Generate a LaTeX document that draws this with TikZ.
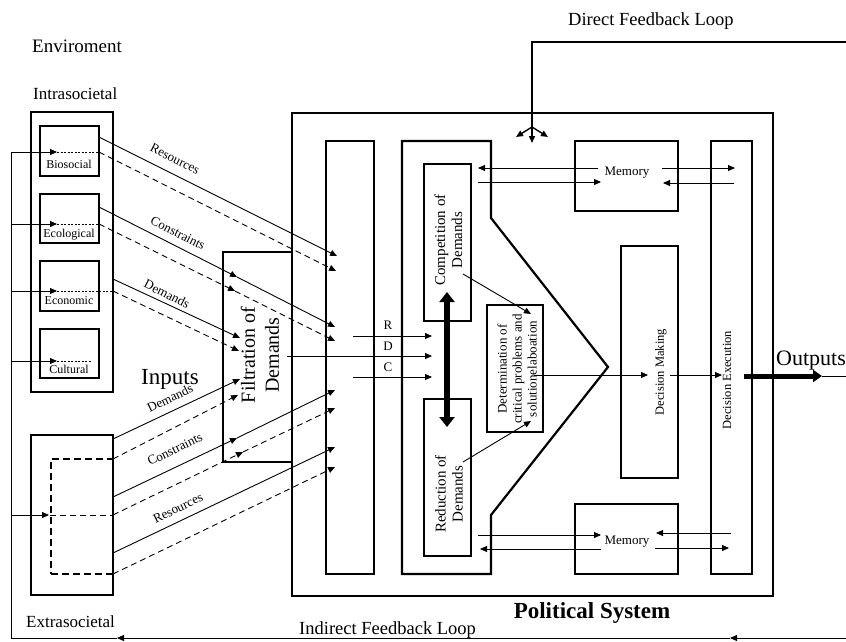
\documentclass[tikz,border=0pt]{standalone}
\usepackage{fontspec}
\setmainfont{Liberation Serif}
\usetikzlibrary{positioning,calc,arrows.meta}
\newcommand{\fsz}[2]{\fontsize{#1}{#2}\selectfont}
\tikzset{
	box/.style={draw, line width=2.2pt, inner sep=0pt},
	thinline/.style={line width=0.9pt},
	arr/.style={thinline, -{Triangle[length=7pt,width=6pt]}},
	darr/.style={arr, dash pattern=on 6pt off 4pt},
	dashline/.style={thinline, dash pattern=on 6pt off 4pt},
	dotline/.style={line width=0.7pt, dash pattern=on 2pt off 1.5pt},
	bigarr/.style={line width=5pt, -{Triangle[length=9pt,width=12pt]}},
	lbl/.style={font=\fsz{13}{15}, inner sep=0pt},
	boxlbl/.style={font=\fsz{12}{14}, inner sep=0pt, anchor=base},
	vert/.style={rotate=90, align=center, inner sep=0pt},
	title/.style={inner sep=0pt, anchor=base west}
}

\begin{document}
\begin{tikzpicture}[x=1pt, y=-1pt]
	\useasboundingbox (0,0) rectangle (846,641);

	\node[title, font=\fsz{19}{22}] (env) at (32,52) {Enviroment};
	\node[title, font=\fsz{17}{20}] (intratxt) at (33,99) {Intrasocietal};
	\node[title, font=\fsz{17}{20}] (extratxt) at (26,627) {Extrasocietal};
	\node[title, font=\fsz{18.5}{20}] (dfbtxt) at (568,25) {Direct Feedback Loop};
	\node[title, font=\fsz{18.5}{20}] (ifbtxt) at (299,634) {Indirect Feedback Loop};
	\node[inner sep=0pt, anchor=base, font=\fsz{23}{26}\bfseries] (poltxt) at (592,618) {Political System};
	\node[title, font=\fsz{23}{26}] (inputs) at (141,384) {Inputs};
	\node[title, font=\fsz{22}{26}] (outputs) at (776,365) {Outputs};

	% environment boxes
	\node[box, minimum width=82pt, minimum height=280pt] (intra) at (72,252) {};
	\node[box, minimum width=59pt, minimum height=50pt] (bio) at (69.5,151) {};
	\node[box, minimum width=59pt, minimum height=49pt] (eco) at (69.5,218.5) {};
	\node[box, minimum width=59pt, minimum height=50pt] (econ) at (69.5,286) {};
	\node[box, minimum width=59pt, minimum height=49pt] (cult) at (69.5,353.5) {};
	\node[boxlbl] (biotxt) at (69,168) {Biosocial};
	\node[boxlbl] (ecotxt) at (69,237) {Ecological};
	\node[boxlbl] (econtxt) at (69,304) {Economic};
	\node[boxlbl] (culttxt) at (69,373) {Cultural};
	\node[box, minimum width=82pt, minimum height=160pt] (extra) at (72,515) {};
	\node[box, dash pattern=on 7pt off 4pt, minimum width=62pt, minimum height=115pt] (extrain) at (82,516.5) {};

	% political system
	\node[box, minimum width=69pt, minimum height=210pt] (filt) at (257.5,357) {};
	\node[box, minimum width=481pt, minimum height=483pt] (pol) at (532.5,354.5) {};
	\node[box, minimum width=48pt, minimum height=433pt] (col) at (350,357.5) {};
	\draw[line width=2.2pt, line join=miter] (402,141) -- (491,141) -- (491,218) -- (608,367)
		-- (491,515) -- (491,574) -- (402,574) -- cycle;
	\node[box, minimum width=47pt, minimum height=157pt] (comp) at (447.5,242.5) {};
	\node[box, minimum width=47pt, minimum height=157pt] (red) at (447.5,477.5) {};
	\node[box, minimum width=56pt, minimum height=127pt] (det) at (515,368.5) {};
	\node[box, minimum width=103pt, minimum height=70pt] (memtop) at (626.5,176) {};
	\node[box, minimum width=103pt, minimum height=70pt] (membot) at (626.5,539) {};
	\node[box, minimum width=57pt, minimum height=232pt] (dm) at (649.5,362) {};
	\node[box, minimum width=41pt, minimum height=433pt] (de) at (731.5,357.5) {};

	\node[vert, font=\fsz{20}{24}] (filttxt) at (260,355) {Filtration of\\Demands};
	\node[vert, font=\fsz{15}{17}] (comptxt) at (448.5,240) {Competition of\\Demands};
	\node[vert, font=\fsz{15}{17}] (redtxt) at (449,494) {Reduction of\\Demands};
	\node[vert, font=\fsz{13}{15}] (dettxt) at (517,369) {Determination of\\critical problems and\\solutionelaboation};
	\node[vert, font=\fsz{12.5}{14}] (dmtxt) at (661,372) {Decision Making};
	\node[vert, font=\fsz{12.5}{14}] (detxt) at (727,380) {Decision Execution};
	\node[lbl] (memtoptxt) at (627,173) {Memory};
	\node[lbl] (membottxt) at (627,542) {Memory};

	% indirect feedback loop
	\coordinate (fbin) at (846,638);
	\coordinate (fbmidR) at (730,638);
	\coordinate (fbmidL) at (117,638);
	\coordinate (fbcorner) at (11,638);
	\coordinate (fbtop) at (11,152);
	\draw[arr] (fbin) -- (fbmidR);
	\draw[arr] (fbmidR) -- (fbmidL);
	\draw[thinline] (fbmidL) -- (fbcorner) -- (fbtop);

	\coordinate (bioin) at (57,152);
	\coordinate (ecoin) at (57,224);
	\coordinate (econin) at (57,291);
	\coordinate (cultin) at (57,361);
	\coordinate (extrain0) at (49,515);
	\draw[arr] (bioin -| fbtop) -- (bioin);
	\draw[arr] (ecoin -| fbtop) -- (ecoin);
	\draw[arr] (econin -| fbtop) -- (econin);
	\draw[arr] (cultin -| fbtop) -- (cultin);
	\draw[arr] (extrain0 -| fbtop) -- (extrain0);
	\draw[dotline] (bioin) -- (bioin -| bio.east);
	\draw[dotline] (ecoin) -- (ecoin -| eco.east);
	\draw[dotline] (econin) -- (econin -| intra.east);
	\draw[dotline] (cultin) -- (92,361);
	\draw[dashline] (extrain0 -| extrain.west) -- (extrain0 -| extra.east);

	% intrasocietal inputs
	\coordinate (bioS) at (99,137);
	\coordinate (bioD) at (99,152);
	\coordinate (resS) at (337,256);
	\coordinate (resD) at (336,271);
	\coordinate (ecoS) at (99,207);
	\coordinate (ecoD) at (99,224);
	\coordinate (conSm) at (237,277);
	\coordinate (conDm) at (235,291);
	\coordinate (conS) at (335,327);
	\coordinate (conD) at (335,341);
	\coordinate (econS) at (113,279);
	\coordinate (econD) at (113,291);
	\coordinate (demS) at (240,338);
	\coordinate (demD) at (239,351);
	\draw[arr ] (bioS) -- (resS);
	\draw[darr] (bioD) -- (resD);
	\draw[arr ] (ecoS) -- (conSm);
	\draw[arr ] (conSm) -- (conS);
	\draw[darr] (ecoD) -- (conDm);
	\draw[darr] (conDm) -- (conD);
	\draw[arr ] (econS) -- (demS);
	\draw[darr] (econD) -- (demD);
	\node[lbl, rotate=-27] (restxt) at (175,159) {Resources};
	\node[lbl, rotate=-27] (contxt) at (178,233) {Constraints};
	\node[lbl, rotate=-27] (demtxt) at (167,294) {Demands};

	% extrasocietal inputs
	\coordinate (xdemS0) at (113,439);
	\coordinate (xdemD0) at (113,459);
	\coordinate (xconS0) at (113,497);
	\coordinate (xconD0) at (113,515);
	\coordinate (xresS0) at (113,553);
	\coordinate (xresD0) at (113,574);
	\coordinate (xdemS) at (240,379);
	\coordinate (xdemD) at (238,395);
	\coordinate (xconSm) at (237,438);
	\coordinate (xconDm) at (243,452);
	\coordinate (xconS) at (335,390);
	\coordinate (xconD) at (335,408);
	\coordinate (xresS) at (335,447);
	\coordinate (xresD) at (335,467);
	\draw[arr ] (xdemS0) -- (xdemS);
	\draw[darr] (xdemD0) -- (xdemD);
	\draw[arr ] (xconS0) -- (xconSm);
	\draw[arr ] (xconSm) -- (xconS);
	\draw[darr] (xconD0) -- (xconDm);
	\draw[darr] (xconDm) -- (xconD);
	\draw[arr ] (xresS0) -- (xresS);
	\draw[darr] (xresD0) -- (xresD);
	\node[lbl, rotate=26] (xdemtxt) at (170,398) {Demands};
	\node[lbl, rotate=26] (xcontxt) at (175,449) {Constraints};
	\node[lbl, rotate=26] (xrestxt) at (178,508) {Resources};

	% R, D, C
	\coordinate (rS) at (353,336);
	\coordinate (dS) at (287,356);
	\coordinate (cS) at (353,377);
	\coordinate (rE) at (432,336);
	\coordinate (dE) at (432,356);
	\coordinate (cE) at (432,377);
	\draw[arr] (rS) -- (rE);
	\draw[arr] (dS) -- (dE);
	\draw[arr] (cS) -- (cE);
	\node[lbl] (rtxt) at (388,325) {R};
	\node[lbl] (dtxt) at (388,346) {D};
	\node[lbl] (ctxt) at (388,367) {C};

	% processing
	\coordinate (cpTop) at (447,292);
	\coordinate (cpBot) at (447,427);
	\draw[line width=6pt, {Triangle[length=10pt,width=15pt]}-{Triangle[length=10pt,width=15pt]}] (cpTop) -- (cpBot);
	\coordinate (compout) at (463,274);
	\coordinate (redout) at (463,462);
	\coordinate (detinT) at (531,314);
	\coordinate (detinB) at (531,421);
	\draw[arr] (compout) -- (detinT);
	\draw[arr] (redout) -- (detinB);
	\coordinate (detout) at (534,375);
	\coordinate (dmin) at (648,375);
	\coordinate (dmout) at (670,375);
	\coordinate (dein) at (722,375);
	\draw[arr] (detout) -- (dmin);
	\draw[arr] (dmout) -- (dein);
	\coordinate (outS) at (744,376);
	\coordinate (outM) at (822,376);
	\coordinate (outE) at (846,376);
	\draw[bigarr] (outS) -- (outM);
	\draw[thinline] (outM) -- (outE);

	% memory
	\coordinate (mtL1) at (478,168);
	\coordinate (mtL2) at (598,168);
	\coordinate (mtL3) at (478,182);
	\coordinate (mtL4) at (601,182);
	\coordinate (mtR1) at (662,168);
	\coordinate (mtR2) at (735,168);
	\coordinate (mtR3) at (663,183);
	\coordinate (mtR4) at (734,183);
	\draw[arr] (mtL2) -- (mtL1);
	\draw[arr] (mtL3) -- (mtL4);
	\draw[arr] (mtR1) -- (mtR2);
	\draw[arr] (mtR4) -- (mtR3);
	\coordinate (mbL1) at (478,535);
	\coordinate (mbL2) at (601,535);
	\coordinate (mbL3) at (480,549);
	\coordinate (mbL4) at (601,549);
	\coordinate (mbR1) at (656,533);
	\coordinate (mbR2) at (731,533);
	\coordinate (mbR3) at (655,548);
	\coordinate (mbR4) at (729,548);
	\draw[arr] (mbL1) -- (mbL2);
	\draw[arr] (mbL4) -- (mbL3);
	\draw[arr] (mbR2) -- (mbR1);
	\draw[arr] (mbR3) -- (mbR4);

	% direct feedback loop
	\coordinate (dfin) at (846,42);
	\coordinate (dfcorner) at (532,42);
	\coordinate (dfsplit) at (532,127);
	\coordinate (dfdown) at (532,143);
	\coordinate (dfleft) at (516,137);
	\coordinate (dfright) at (548,137);
	\draw[line width=1.4pt] (dfin) -- (dfcorner) -- (dfsplit);
	\draw[arr, line width=1.4pt] (dfsplit) -- (dfdown);
	\draw[arr, line width=1.4pt] (dfsplit) -- (dfleft);
	\draw[arr, line width=1.4pt] (dfsplit) -- (dfright);
\end{tikzpicture}
\end{document}
